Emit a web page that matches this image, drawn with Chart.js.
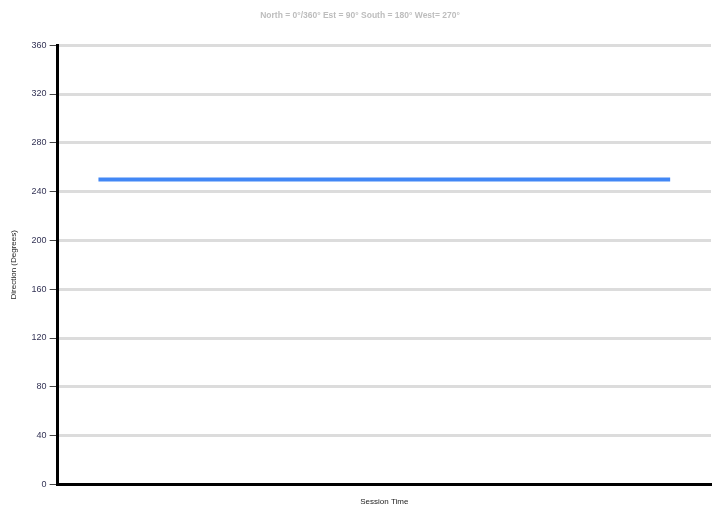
<!DOCTYPE html>
<html>
<head>
<meta charset="utf-8">
<script src="https://cdn.jsdelivr.net/npm/chart.js@4"></script>
<style>
html,body{margin:0;padding:0;background:#fff;}
#wrap{width:721px;height:508px;position:relative;}
</style>
</head>
<body>
<div id="wrap"><canvas id="c" width="721" height="508"></canvas></div>
<script>
const sessionLabels = ["1","2","3","4","5","6","7","8"];
const directionValues = [250,250,250,250,250,250,250,250];
const yTicks = [0,40,80,120,160,200,240,280,320,360];

const ctx = document.getElementById('c');
new Chart(ctx, {
  type: 'line',
  data: {
    labels: sessionLabels,
    datasets: [{
      data: directionValues,
      borderColor: '#4287f5',
      borderWidth: 4,
      pointRadius: 0,
      fill: false,
      tension: 0
    }]
  },
  options: {
    responsive: false,
    animation: false,
    layout: { padding: { left: 9, right: 10, top: 5, bottom: 1 } },
    plugins: {
      legend: { display: false },
      tooltip: { enabled: false },
      title: {
        display: true,
        text: 'North = 0°/360° Est = 90° South = 180° West= 270°',
        color: '#bdbdbd',
        font: { family: 'Liberation Sans, Arial', size: 8.5, weight: 'bold' },
        padding: { top: 6, bottom: 24 }
      }
    },
    scales: {
      x: {
        type: 'category',
        offset: true,
        grid: { display: false, drawTicks: false },
        border: { display: true, color: '#000', width: 3 },
        ticks: { display: false },
        title: {
          display: true,
          text: 'Session Time',
          color: '#222',
          font: { family: 'Liberation Sans, Arial', size: 8 },
          padding: { top: 13, bottom: 0 }
        }
      },
      y: {
        min: 0,
        max: 360,
        afterBuildTicks: (axis) => { axis.ticks = yTicks.map(v => ({ value: v })); },
        grid: { color: '#dcdcdc', lineWidth: 3, tickColor: '#444', tickLength: 8, tickWidth: 1 },
        border: { display: true, color: '#000', width: 3 },
        ticks: {
          color: '#333355',
          font: { family: 'Liberation Sans, Arial', size: 9 },
          padding: 3
        },
        title: {
          display: true,
          text: 'Direction (Degrees)',
          color: '#222',
          font: { family: 'Liberation Sans, Arial', size: 8 },
          padding: { top: 0, bottom: 10 }
        }
      }
    }
  }
});
</script>
</body>
</html>
